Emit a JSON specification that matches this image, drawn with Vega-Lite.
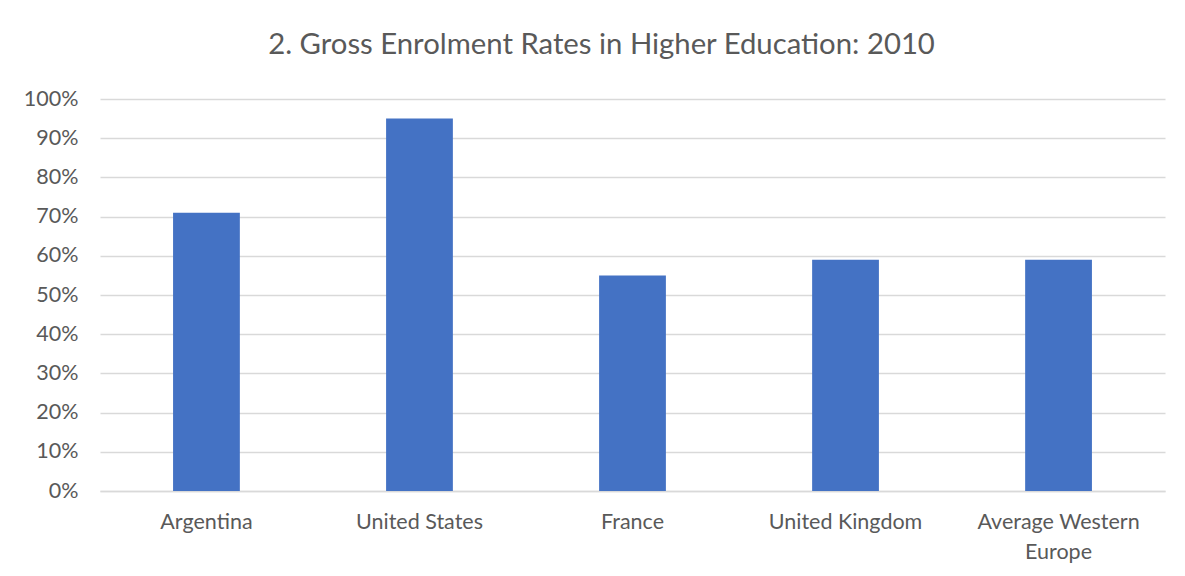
{
  "$schema": "https://vega.github.io/schema/vega-lite/v6.json",
  "autosize": "none",
  "width": 1065,
  "height": 392,
  "padding": {"left": 100, "top": 99, "right": 20, "bottom": 85},
  "background": "white",
  "title": {
    "text": "2. Gross Enrolment Rates in Higher Education: 2010",
    "font": "Lato",
    "fontSize": 29.3,
    "fontWeight": "normal",
    "color": "#595959",
    "anchor": "middle",
    "dx": -31,
    "offset": 28
  },
  "data": {
    "values": [
      {"country": "Argentina", "rate": 0.71},
      {"country": "United States", "rate": 0.95},
      {"country": "France", "rate": 0.55},
      {"country": "United Kingdom", "rate": 0.59},
      {"country": "Average Western Europe", "rate": 0.59}
    ]
  },
  "mark": {"type": "bar", "color": "#4472C4"},
  "encoding": {
    "x": {
      "field": "country",
      "type": "nominal",
      "sort": null,
      "title": null,
      "scale": {"paddingInner": 0.6865, "paddingOuter": 0.343},
      "axis": {
        "labelAngle": 0,
        "labelFont": "Lato",
        "labelFontSize": 21.5,
        "labelColor": "#595959",
        "labelPadding": 20,
        "labelLineHeight": 30,
        "labelOverlap": false,
        "labelExpr": "datum.label == 'Average Western Europe' ? ['Average Western', 'Europe'] : datum.label",
        "domainColor": "#D9D9D9",
        "domainWidth": 1.5,
        "ticks": false
      }
    },
    "y": {
      "field": "rate",
      "type": "quantitative",
      "title": null,
      "scale": {"domain": [0, 1]},
      "axis": {
        "format": ".0%",
        "values": [0, 0.1, 0.2, 0.3, 0.4, 0.5, 0.6, 0.7, 0.8, 0.9, 1.0],
        "labelOverlap": false,
        "labelFont": "Lato",
        "labelFontSize": 21.5,
        "labelColor": "#595959",
        "labelPadding": 22,
        "domain": false,
        "ticks": false,
        "gridColor": "#D9D9D9",
        "gridWidth": 1.5
      }
    }
  },
  "config": {"view": {"stroke": null}}
}
